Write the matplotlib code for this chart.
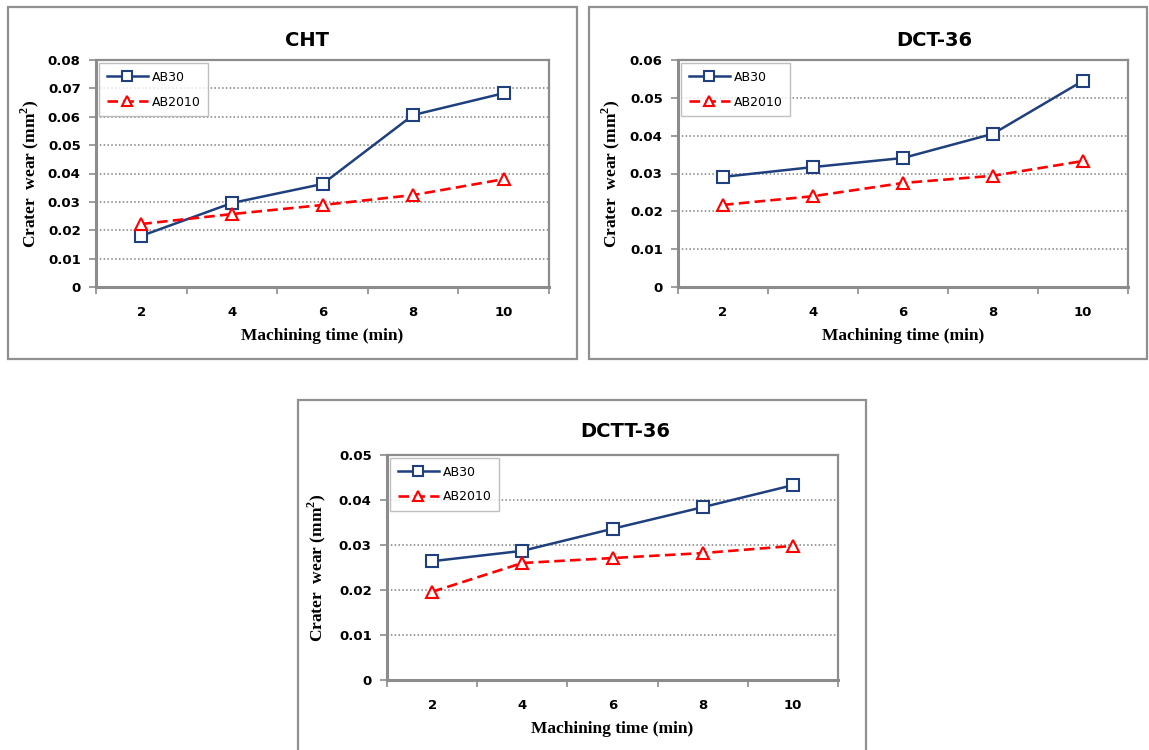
import matplotlib.pyplot as plt
from matplotlib.patches import Rectangle
from matplotlib.ticker import MultipleLocator, FixedLocator

times = [2, 4, 6, 8, 10]
series_names = ["AB30", "AB2010"]

cht_ab30 = [0.0180, 0.0296, 0.0363, 0.0606, 0.0683]
cht_ab2010 = [0.0222, 0.0257, 0.0289, 0.0324, 0.0380]

dct_ab30 = [0.0291, 0.0317, 0.0341, 0.0405, 0.0545]
dct_ab2010 = [0.0217, 0.0240, 0.0275, 0.0294, 0.0333]

dctt_ab30 = [0.0264, 0.0287, 0.0336, 0.0384, 0.0433]
dctt_ab2010 = [0.0196, 0.0260, 0.0271, 0.0282, 0.0298]

W, H = 1149, 750
fig = plt.figure(figsize=(W / 100, H / 100), dpi=100)

GRAY = "#8c8c8c"
BLUE = "#1f3f7f"
RED = "#ff0000"

plt.rcParams["mathtext.fontset"] = "custom"
plt.rcParams["mathtext.bf"] = "Liberation Serif:bold"
plt.rcParams["mathtext.rm"] = "Liberation Serif"


def px_rect(x0, y0, x1, y1):
    return [x0 / W, 1 - y1 / H, (x1 - x0) / W, (y1 - y0) / H]


def panel_box(x0, y0, x1, y1):
    fig.patches.append(Rectangle((x0 / W, 1 - y1 / H), (x1 - x0) / W, (y1 - y0) / H,
                                 transform=fig.transFigure, fill=False,
                                 edgecolor="#909090", linewidth=1.6))


def draw_panel(area, title, title_xy, ylabel_x, xlabel_y, ab30, ab2010, ymax):
    ax = fig.add_axes(px_rect(*area))
    pos = list(range(len(times)))
    ax.plot(pos, ab30, color=BLUE, lw=1.8, marker="s", ms=9, mfc="white",
            mec=BLUE, mew=1.5, label=series_names[0])
    ax.plot(pos, ab2010, color=RED, lw=1.9, ls=(0, (4, 2)), marker="^", ms=9,
            mfc="white", mec=RED, mew=1.5, label=series_names[1])
    ax.set_xlim(-0.5, len(times) - 0.5)
    ax.set_ylim(0, ymax)
    ax.yaxis.set_major_locator(MultipleLocator(0.01))
    ax.set_yticklabels(["0" if v == 0 else f"{v:.2f}" for v in ax.get_yticks()])
    ax.set_xticks(pos)
    ax.set_xticklabels([str(t) for t in times])
    ax.xaxis.set_minor_locator(FixedLocator([p - 0.5 for p in range(len(times) + 1)]))
    ax.tick_params(axis="x", which="major", length=0, pad=14)
    ax.tick_params(axis="x", which="minor", length=5, width=1.2, color=GRAY, direction="out")
    ax.tick_params(axis="y", length=5, width=1.2, color=GRAY, direction="out", pad=6)
    for lab in ax.get_xticklabels() + ax.get_yticklabels():
        lab.set_fontweight("bold")
        lab.set_fontsize(9.5)
        lab.set_fontfamily("DejaVu Sans")
    ax.grid(axis="y", color="#808080", ls=(0, (1, 1.5)), lw=1.1)
    ax.set_axisbelow(True)
    for side in ["left", "bottom"]:
        ax.spines[side].set_color(GRAY)
        ax.spines[side].set_linewidth(2.2)
    for side in ["top", "right"]:
        ax.spines[side].set_color(GRAY)
        ax.spines[side].set_linewidth(1.6)
    leg = ax.legend(loc="upper left", fontsize=9, frameon=True, fancybox=False,
                    edgecolor="#b0b0b0", handlelength=3.3, labelspacing=0.95,
                    borderaxespad=0.25, borderpad=0.6, handletextpad=0.3,
                    markerscale=0.8)
    leg.get_frame().set_linewidth(1.0)
    fig.text(title_xy[0] / W, 1 - title_xy[1] / H, title, ha="center", va="center",
             fontsize=14, fontweight="bold", family="DejaVu Sans")
    cx = (area[0] + area[2]) / 2
    cy = (area[1] + area[3]) / 2
    fig.text(ylabel_x / W, 1 - cy / H, "Crater  wear (mm$^\\mathbf{2}$)", rotation=90,
             ha="center", va="center", fontsize=12.5, fontweight="bold",
             family="Liberation Serif")
    fig.text(cx / W, 1 - xlabel_y / H, "Machining time (min)", ha="center", va="center",
             fontsize=12.5, fontweight="bold", family="Liberation Serif")
    return ax


panel_box(8, 7, 577, 359)
panel_box(589, 7, 1147, 359)
panel_box(298, 400, 866, 752)

draw_panel((96, 60, 549, 287), "CHT", (307, 40), 30, 336, cht_ab30, cht_ab2010, 0.08)
draw_panel((678, 60, 1128, 287), "DCT-36", (934, 40), 611, 336, dct_ab30, dct_ab2010, 0.06)
draw_panel((387, 455, 838, 680), "DCTT-36", (625, 432), 317, 729, dctt_ab30, dctt_ab2010, 0.05)

fig.savefig("out.png", dpi=100)
